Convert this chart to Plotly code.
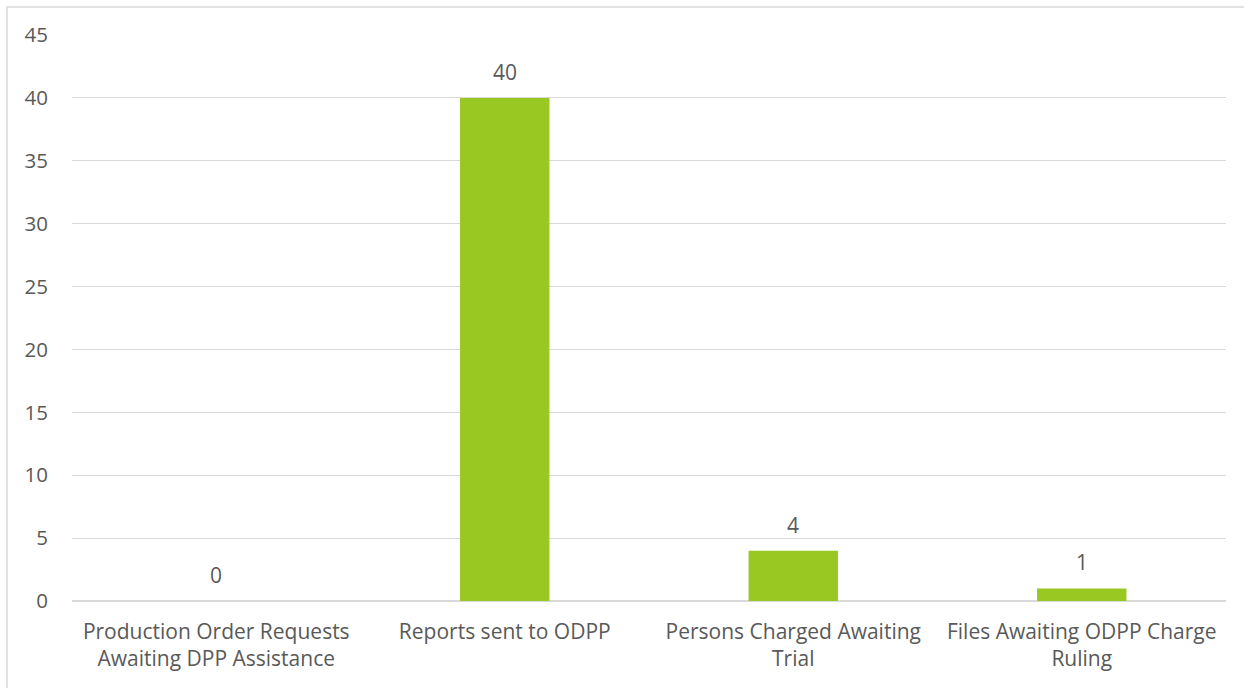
import plotly.graph_objects as go

categories = ["Production Order Requests<br>Awaiting DPP Assistance",
              "Reports sent to ODPP",
              "Persons Charged Awaiting<br>Trial",
              "Files Awaiting ODPP Charge<br>Ruling"]
values = [0, 40, 4, 1]
y_ticks = [0, 5, 10, 15, 20, 25, 30, 35, 40, 45]

BAR = "#9AC823"
TXT = "#595959"
FONT = "Open Sans"
FS = 21

fig = go.Figure()
fig.add_trace(go.Bar(x=categories, y=values, marker_color=BAR,
                     marker_line_width=0, showlegend=False, hoverinfo="skip"))

for c, v in zip(categories, values):
    fig.add_annotation(x=c, y=v, text=str(v), showarrow=False,
                       yanchor="bottom", yshift=10,
                       font=dict(family=FONT, size=FS, color=TXT))

fig.update_layout(
    width=1244, height=688,
    margin=dict(l=72, r=18, t=35, b=87),
    paper_bgcolor="white", plot_bgcolor="white",
    bargap=0.69,
    font=dict(family=FONT, size=FS, color=TXT),
    xaxis=dict(showgrid=False, showline=False, ticks="", automargin=False,
               ticklabelstandoff=16,
               tickfont=dict(family=FONT, size=FS, color=TXT)),
    yaxis=dict(range=[0, 45], tickvals=y_ticks, showgrid=True, automargin=False,
               gridcolor="#D9D9D9", gridwidth=1, zeroline=True,
               zerolinecolor="#D9D9D9", zerolinewidth=1.5, showline=False,
               ticks="", ticklabelstandoff=23,
               tickfont=dict(family=FONT, size=20.5, color=TXT)),
    shapes=[dict(type="rect", xref="paper", yref="paper",
                 x0=-65/1154, x1=1 + 60/1154, y0=-(120)/566, y1=1 + 28/566,
                 line=dict(color="#D9D9D9", width=1.5), layer="below")],
)

fig.write_html("out.html")
